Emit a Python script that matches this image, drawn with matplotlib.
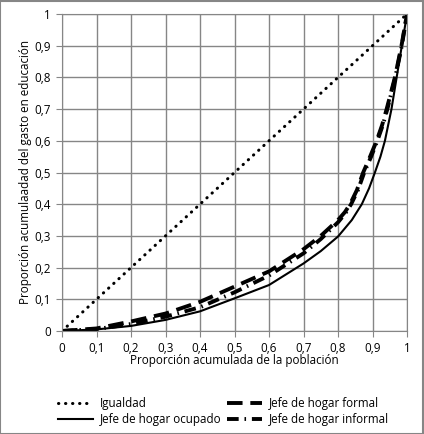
import matplotlib
matplotlib.use("Agg")
import matplotlib.pyplot as plt
from matplotlib.patches import Rectangle

## Data
igualdad = [0, 1]

x_ocupado = [0, 0.1, 0.2, 0.3, 0.4, 0.5, 0.6, 0.7, 0.75, 0.8, 0.84, 0.869, 0.89, 0.907,
             0.923, 0.936, 0.955, 0.97, 0.985, 1.0]
ocupado = [0, 0.005, 0.016, 0.035, 0.062, 0.103, 0.145, 0.213, 0.252, 0.298, 0.35, 0.40, 0.45,
           0.50, 0.55, 0.60, 0.70, 0.80, 0.90, 1.0]

x_formal = [0, 0.1, 0.2, 0.3, 0.4, 0.5, 0.6, 0.7, 0.75, 0.8, 0.82, 0.835, 0.855, 0.873,
            0.893, 0.912, 0.928, 0.941, 0.965, 0.984, 1.0]
formal = [0, 0.008, 0.03, 0.055, 0.092, 0.14, 0.188, 0.258, 0.30, 0.35, 0.375, 0.40, 0.445,
          0.50, 0.55, 0.60, 0.65, 0.70, 0.80, 0.90, 1.0]

x_informal = [0, 0.1, 0.2, 0.3, 0.4, 0.5, 0.6, 0.7, 0.75, 0.8, 0.822, 0.838, 0.858, 0.876,
              0.896, 0.914, 0.93, 0.943, 0.966, 0.985, 1.0]
informal = [0, 0.006, 0.022, 0.045, 0.075, 0.122, 0.175, 0.245, 0.29, 0.343, 0.372, 0.40, 0.445,
            0.50, 0.55, 0.60, 0.65, 0.70, 0.80, 0.90, 1.0]

ticks = [0, 0.1, 0.2, 0.3, 0.4, 0.5, 0.6, 0.7, 0.8, 0.9, 1]
tick_labels = ["0", "0,1", "0,2", "0,3", "0,4", "0,5", "0,6", "0,7", "0,8", "0,9", "1"]

plt.rcParams['font.family'] = ['Open Sans', 'DejaVu Sans']
grid_col = '#868686'
fs = 8.4

fig = plt.figure(figsize=(4.24, 4.34), dpi=100)
ax = fig.add_axes([62 / 424, 103 / 434, 345 / 424, 317 / 434])

l1, = ax.plot(igualdad, igualdad, color='black', lw=2.2, linestyle=(0, (0.1, 2.2)),
              dash_capstyle='round', label='Igualdad')
l2, = ax.plot(x_ocupado, ocupado, color='black', lw=1.5, label='Jefe de hogar ocupado')
l3, = ax.plot(x_formal, formal, color='black', lw=2.8, linestyle=(0, (4, 2)),
              label='Jefe de hogar formal')
l4, = ax.plot(x_informal, informal, color='black', lw=2.8, linestyle=(0, (3, 1.5, 0.4, 1.5)),
              label='Jefe de hogar informal')

ax.set_xlim(0, 1)
ax.set_ylim(0, 1)
ax.set_xticks(ticks)
ax.set_yticks(ticks)
ax.set_xticklabels(tick_labels, fontsize=fs)
ax.set_yticklabels(tick_labels, fontsize=fs)
ax.grid(True, color=grid_col, lw=1)
ax.set_axisbelow(True)
ax.tick_params(length=4, color=grid_col, pad=4)
for s in ax.spines.values():
    s.set_color(grid_col)

ax.set_xlabel("Proporción acumulada de la población", fontsize=fs, labelpad=-1)
ax.set_ylabel("Proporción acumulaadad del gasto en educación", fontsize=fs, labelpad=2)

fig.legend(handles=[l1, l2, l3, l4], ncol=2, loc='lower left',
           bbox_to_anchor=(50 / 424, 0.0), frameon=False, fontsize=fs,
           handlelength=3.0, handletextpad=0.6, columnspacing=0.5,
           labelspacing=0.3, borderaxespad=0.25)

fig.patches.append(Rectangle((0.001, 0.001), 0.997, 0.997, transform=fig.transFigure,
                             fill=False, edgecolor=grid_col, lw=1.5))

fig.savefig("out.png", dpi=100)
